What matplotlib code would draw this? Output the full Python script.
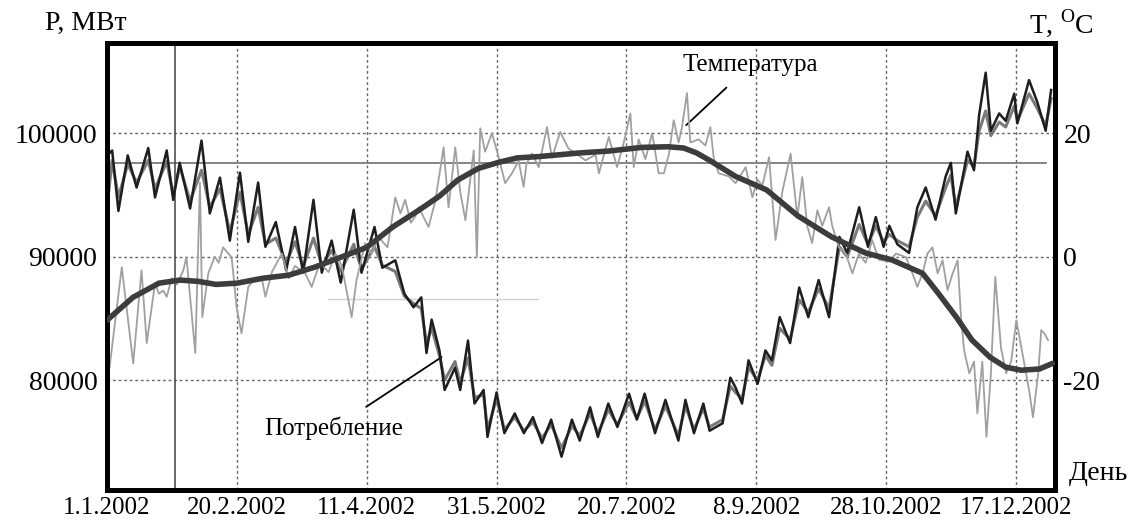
import numpy as np
import matplotlib
matplotlib.use("Agg")
import matplotlib.pyplot as plt

plt.rcParams['font.family'] = ['Liberation Serif', 'DejaVu Serif']
plt.rcParams['mathtext.fontset'] = 'custom'
plt.rcParams['mathtext.rm'] = 'Liberation Serif'
plt.rcParams['axes.unicode_minus'] = False

# дни от 1.1.2002 (день 0) и потребление, МВт
days_p = [0, 2, 4.4, 8, 11.4, 15.9, 18.5, 23, 25.5, 28, 32, 36.4, 39.6, 43.5, 47.3, 51.2, 54.4, 58.2,
          61, 65, 69, 72.4, 75.5, 79.5, 82.7, 86.5, 90, 95, 98, 103, 106, 111, 114.5, 118,
          121, 123, 125, 128, 130, 134, 136, 139, 141.5, 145, 146.5, 150, 153, 157, 160.5, 164,
          167.5, 171, 175, 179, 182, 186, 189, 193, 196.5, 201, 204, 207, 211, 215, 220, 222.7,
          226, 229.6, 232, 237, 240, 242, 244.5, 247, 250.5, 253.5, 256, 259, 263, 266.5, 270,
          274, 278, 282, 285, 289.6, 293, 296, 299, 301.2, 304.3, 308.8, 312, 315.2, 319, 322.9,
          324.9, 326.8, 331.3, 333.8, 335.8, 338.3, 340.3, 343.5, 346, 349.3, 350.5, 355, 358.2,
          361.4, 363.5]
power_a = [98200, 98600, 93700, 98200, 95600, 98800, 94800, 98600, 94600, 97600, 93900, 99400, 93500,
           96400, 91300, 96800, 91200, 96000,
           90800, 92800, 88900, 92400, 88700, 94600, 88700, 91300, 87900, 93800, 88700, 92400, 89100,
           89700, 87000, 85900,
           86700, 82200, 84900, 82400, 79200, 81000, 79200, 83200, 78100, 79200, 75400, 79000, 75700,
           77300, 75700, 77000, 74900, 76800, 73800, 76800,
           75100, 77800, 75400, 78100, 76200, 78900, 76800, 78900, 75700, 78400, 75100, 78400, 75700,
           78100, 75900, 76500, 80200,
           79400, 78100, 81600, 79700, 82400, 81600, 85100, 83000, 87500, 85100, 88100, 85100, 91600,
           90300, 94000, 90800, 93200, 90800,
           92500, 91000, 90300, 94000, 95600, 93000, 96500, 97600, 93500, 98500, 97000, 101500, 104900,
           100200, 101600, 101000, 103200, 100800, 104300, 102500, 100200, 103500]
power_b = [94000, 97800, 94800, 97500, 96000, 97800, 95500, 97700, 95000, 97300, 94500, 97000, 94000,
           95500, 92000, 95200, 91800, 94000,
           91000, 91500, 89500, 91200, 89200, 91500, 89300, 90500, 88800, 91000, 89000, 90800, 89300,
           88800, 86800, 86200,
           85800, 83000, 84200, 82000, 80000, 81500, 79800, 81800, 78600, 78800, 76000, 78500, 76000,
           77000, 75900, 76600, 75300, 76400, 74500, 76300,
           75500, 77300, 75700, 77600, 76400, 78200, 76900, 78300, 76000, 77900, 75500, 77900, 76000,
           77700, 76200, 76800, 79500,
           79000, 78500, 81000, 80000, 82000, 81200, 84200, 83300, 86500, 85500, 87400, 85800, 90800,
           90000, 92600, 91000, 92500, 91200,
           91800, 91300, 90800, 93200, 94500, 93300, 95600, 96600, 94000, 97800, 97300, 100200, 101800,
           99800, 100900, 100500, 102200, 101000, 103200, 102000, 100600, 102800]

# температура, °C
days_t = [1, 5.7, 10.1, 13.3, 15.3, 18.5, 20, 21.7, 23, 24.9, 27, 29.4, 30.6, 34, 35.8, 36.7, 39, 41.5,
          43, 44.7, 48, 49.9, 51.8, 54.4, 56, 57, 59.5, 61, 63.5, 67.3, 70, 72.4, 76.3, 78.8, 82,
          85.3, 88, 90.4, 94.2, 96, 99.4, 102, 104.5, 108, 111, 113, 114.8, 117, 118.7, 120, 123.8,
          126.4, 129.6, 131.5, 134.1, 136, 138, 141.2, 142.4, 143.7, 145.6, 148.2, 150.8, 153.3,
          155.9, 158.5, 160.4, 161.5, 163.6, 166.2, 169.4, 171.3, 174.5, 177.7, 180.3, 184.2, 188.1,
          189.4, 193.2, 196.4, 199, 201.5, 202.8, 204.7, 207.3, 209.9, 212.4, 214.4, 216.3, 218.2,
          220.1, 221.4, 223.3, 224.6, 227.8, 230.4, 232.3, 233.6, 235.5, 239.4, 242, 245.9, 248.5,
          250.4, 252.3, 254.9, 257.4, 260, 263.2, 265.8, 267.7, 269.6, 271.5, 273.5, 275.4, 278,
          279.2, 281.8, 284.4, 287, 289.5, 292.1, 294.6, 297.2, 301, 303.8, 307.6, 310.1, 312, 314,
          315.9, 317.8, 319.8, 321.7, 323.6, 325.6, 327.5, 328.8, 330, 332, 333.8, 335.1, 337,
          338.6, 340.3, 342, 344.2, 346.2, 348.1, 350.1, 352.6, 355.2, 356.5, 358.5, 359.7, 361,
          362.3]
temp = [-17.9, -1.7, -17.3, -2.2, -14, -4.3, -6, -5.5, -6.5, -3.5, -4.5, -2.2, -0.1, -15.6, 12, -9.8,
        -2.7, 0, -1, 1.5, -0.1, -8.2, -12.4, -4.9, -4, -3.8, -3.3, -6.5, -2.5, 0.5, -3.5, -1.5, -2.7,
        -4.9, -1, -2.5, 0.5, -1.5, -9.8, -4, 2.2, 0.5, 3.2, 1.5, 9.6, 7, 9.2, 5.5, 6.5, 8, 4.8, 9,
        17.7, 8, 17.7, 10.5, 5.9, 17.2, -0.1, 20.8, 17, 20, 16.1, 11.9, 13.5, 15.5, 11.3, 15, 16.7,
        14.5, 21, 16, 20.2, 17.5, 16.8, 15.6, 16.5, 13.5, 19.4, 14.5, 18.5, 23.2, 14.5, 19, 15.8, 20,
        13.5, 13.5, 16.5, 22.1, 18.5, 21, 26.5, 18.5, 19, 18, 21, 16, 13.5, 13, 11.9, 14.5, 9.6, 12.5,
        11.5, 16.1, 2.7, 10.5, 16.7, 6.4, 12.9, 5, 2.2, 7.5, 5, 8, 5, 1.5, 0.5, -2.7, 0.5, -1, 2.7,
        -0.5, -0.8, 0.5, -0.1, -2.7, -4.9, -2.7, 0.5, 1.5, -2.7, -0.6, -5.4, -2.7, -0.6, -9.8, -15.2,
        -18.9, -17, -25.4, -17, -29.2, -19, -3.3, -14.8, -18.9, -17, -10.3, -16, -22.1, -26, -19,
        -11.9, -12.5, -13.5]

days_s = [0, 10, 20, 28, 35, 42, 50, 60, 70, 80, 90, 100, 110, 120, 128, 135, 143, 151, 158, 166, 174,
          182, 193, 206, 216, 222, 227, 232, 237, 242, 254, 266, 279, 292, 302, 314, 320, 327, 333,
          340, 346, 352, 359, 364]
temp_smooth = [-10.3, -6.6, -4.3, -3.8, -4, -4.5, -4.3, -3.5, -3, -1.7, -0.1, 1.5, 4.8, 7.5, 9.8, 12.4,
               14.3, 15.3, 16, 16.2, 16.5, 16.8, 17.1, 17.7, 17.8, 17.6, 16.8, 15.6, 14.3, 13, 10.8,
               6.6, 3.2, 0.6, -0.5, -2.7, -5.9, -9.8, -13.5, -16.3, -17.9, -18.4, -18.2, -17.3]

tick_days = [0, 50, 100, 150, 200, 250, 300, 350]
tick_labels = ['1.1.2002', '20.2.2002', '11.4.2002', '31.5.2002', '20.7.2002',
               '8.9.2002', '28.10.2002', '17.12.2002']
p_ticks = [80000, 90000, 100000]
t_ticks = [-20, 0, 20]
p_level = 97570
marker_day = 26.2

fig = plt.figure(figsize=(11.32, 5.25), dpi=100)
ax = fig.add_axes([0.0945, 0.0667, 0.8375, 0.8513])
ax2 = ax.twinx()

ax.set_xlim(0, 365)
ax.set_ylim(71100, 107300)
ax2.set_ylim((71100 - 90000) / 500, (107300 - 90000) / 500)

grid_kw = dict(color='#666666', lw=1, ls=(0, (2, 2)))
for d in tick_days[1:]:
    ax.axvline(d, **grid_kw, zorder=1)
for p in p_ticks:
    ax.axhline(p, **grid_kw, zorder=1)

ax.axhline(p_level, xmin=0, xmax=0.99, color='#707070', lw=1.2, zorder=2)
ax.axvline(marker_day, color='#505050', lw=1.2, zorder=2)
ax.plot([85, 166], [86600, 86600], color='#d0d0d0', lw=1, zorder=1)

ax.plot(days_p, power_b, color='#7a7a7a', lw=2.2, zorder=3)
ax.plot(days_p, power_a, color='#1e1e1e', lw=1.8, zorder=4)

ax2.plot(days_t, temp, color='#a0a0a0', lw=1.3, zorder=2)
ax2.plot(days_s, temp_smooth, color='#3c3c3c', lw=4, solid_capstyle='round', zorder=3)

ax.set_xticks(tick_days)
ax.set_xticklabels(tick_labels)
ax.set_yticks(p_ticks)
ax2.set_yticks(t_ticks)
ax.tick_params(axis='y', length=0, labelsize=20, pad=7)
ax.tick_params(axis='x', length=0, labelsize=18, pad=5)
ax2.tick_params(axis='y', length=0, labelsize=20, pad=6)

for a in (ax, ax2):
    for s in a.spines.values():
        s.set_linewidth(3.6)
        s.set_color('black')

ax.annotate('Температура', xy=(223, 100650), xytext=(247.7, 105500),
            ha='center', va='center', fontsize=18,
            arrowprops=dict(arrowstyle='-', color='black', lw=1.3, shrinkA=9, shrinkB=0))
ax.annotate('Потребление', xy=(128.8, 81860), xytext=(87.3, 76100),
            ha='center', va='center', fontsize=18,
            arrowprops=dict(arrowstyle='-', color='black', lw=1.3, shrinkA=9, shrinkB=0))

fig.text(0.076, 0.956, 'P, МВт', fontsize=20, ha='center', va='center')
fig.text(0.938, 0.956, r'T, $^{\rm O}$C', fontsize=20, ha='center', va='center')
fig.text(0.9705, 0.099, 'День', fontsize=20, ha='center', va='center')

fig.savefig('out.png', dpi=100)
